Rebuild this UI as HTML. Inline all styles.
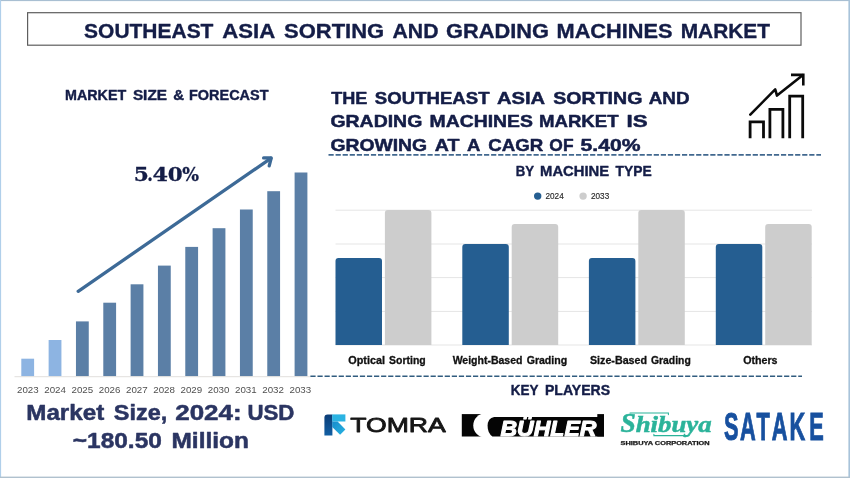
<!DOCTYPE html>
<html lang="en"><head><meta charset="utf-8"><title>Southeast Asia Sorting and Grading Machines Market</title>
<style>html,body{margin:0;padding:0;background:#fff;}body{width:850px;height:478px;overflow:hidden;}svg{display:block;}text{font-family:'Liberation Sans', sans-serif;}</style></head><body>
<svg width="850" height="478" viewBox="0 0 850 478">
<rect x="0" y="0" width="850" height="478" fill="#ffffff"/>
<rect x="0" y="0" width="850" height="1.1" fill="#a9bfd2"/>
<rect x="0" y="0" width="1.1" height="478" fill="#b0cfea"/>
<rect x="848.4" y="0" width="1.6" height="478" fill="#a8c3da"/>
<rect x="0" y="476.6" width="850" height="1.4" fill="#b0c1ce"/>
<rect x="27.6" y="12.7" width="773.4" height="32.5" fill="#fff" stroke="#5e5e5e" stroke-width="1.2"/>
<text y="37.6" font-size="20.4" font-weight="bold" fill="#141d47" stroke="#141d47" stroke-width="0.35" stroke-linejoin="round"><tspan x="84.12" textLength="129.32" lengthAdjust="spacingAndGlyphs">SOUTHEAST</tspan> <tspan x="222.23" textLength="52.10" lengthAdjust="spacingAndGlyphs">ASIA</tspan> <tspan x="284.06" textLength="100.16" lengthAdjust="spacingAndGlyphs">SORTING</tspan> <tspan x="392.52" textLength="45.96" lengthAdjust="spacingAndGlyphs">AND</tspan> <tspan x="446.12" textLength="102.90" lengthAdjust="spacingAndGlyphs">GRADING</tspan> <tspan x="556.50" textLength="116.13" lengthAdjust="spacingAndGlyphs">MACHINES</tspan> <tspan x="680.72" textLength="89.23" lengthAdjust="spacingAndGlyphs">MARKET</tspan></text>
<text y="99.5" font-size="14" font-weight="bold" fill="#141d47" stroke="#141d47" stroke-width="0.4" stroke-linejoin="round"><tspan x="64.99" textLength="61.19" lengthAdjust="spacingAndGlyphs">MARKET</tspan> <tspan x="132.90" textLength="34.10" lengthAdjust="spacingAndGlyphs">SIZE</tspan> <tspan x="173.28" textLength="10.85" lengthAdjust="spacingAndGlyphs">&amp;</tspan> <tspan x="189.00" textLength="79.46" lengthAdjust="spacingAndGlyphs">FORECAST</tspan></text>
<text y="180.8" font-size="18.6" font-weight="bold" fill="#141d47" stroke="#141d47" stroke-width="0.3" style="font-family:'DejaVu Serif', serif"><tspan x="133.87" textLength="15.13" lengthAdjust="spacingAndGlyphs">5</tspan><tspan x="147.14" textLength="5.61" lengthAdjust="spacingAndGlyphs">.</tspan><tspan x="152.64" textLength="15.53" lengthAdjust="spacingAndGlyphs">4</tspan><tspan x="167.74" textLength="14.91" lengthAdjust="spacingAndGlyphs">0</tspan><tspan x="182.33" textLength="16.75" lengthAdjust="spacingAndGlyphs">%</tspan></text>
<rect x="21.30" y="358.7" width="12.8" height="17.6" fill="#8db4e2"/>
<rect x="48.63" y="340.0" width="12.8" height="36.3" fill="#8db4e2"/>
<rect x="75.96" y="321.4" width="12.8" height="54.9" fill="#5b7fa6"/>
<rect x="103.29" y="302.7" width="12.8" height="73.6" fill="#5b7fa6"/>
<rect x="130.62" y="284.3" width="12.8" height="92.0" fill="#5b7fa6"/>
<rect x="157.95" y="265.6" width="12.8" height="110.7" fill="#5b7fa6"/>
<rect x="185.28" y="246.9" width="12.8" height="129.4" fill="#5b7fa6"/>
<rect x="212.61" y="228.2" width="12.8" height="148.1" fill="#5b7fa6"/>
<rect x="239.94" y="209.5" width="12.8" height="166.8" fill="#5b7fa6"/>
<rect x="267.27" y="191.2" width="12.8" height="185.1" fill="#5b7fa6"/>
<rect x="294.60" y="172.5" width="12.8" height="203.8" fill="#5b7fa6"/>
<rect x="14.5" y="376.2" width="296" height="1" fill="#e2dfdc"/>
<text x="17.00" y="393.3" font-size="8.5" font-weight="normal" fill="#505050" textLength="21.7" lengthAdjust="spacingAndGlyphs">2023</text>
<text x="44.25" y="393.3" font-size="8.5" font-weight="normal" fill="#505050" textLength="21.7" lengthAdjust="spacingAndGlyphs">2024</text>
<text x="71.50" y="393.3" font-size="8.5" font-weight="normal" fill="#505050" textLength="21.7" lengthAdjust="spacingAndGlyphs">2025</text>
<text x="98.75" y="393.3" font-size="8.5" font-weight="normal" fill="#505050" textLength="21.7" lengthAdjust="spacingAndGlyphs">2026</text>
<text x="126.00" y="393.3" font-size="8.5" font-weight="normal" fill="#505050" textLength="21.7" lengthAdjust="spacingAndGlyphs">2027</text>
<text x="153.25" y="393.3" font-size="8.5" font-weight="normal" fill="#505050" textLength="21.7" lengthAdjust="spacingAndGlyphs">2028</text>
<text x="180.50" y="393.3" font-size="8.5" font-weight="normal" fill="#505050" textLength="21.7" lengthAdjust="spacingAndGlyphs">2029</text>
<text x="207.75" y="393.3" font-size="8.5" font-weight="normal" fill="#505050" textLength="21.7" lengthAdjust="spacingAndGlyphs">2030</text>
<text x="235.00" y="393.3" font-size="8.5" font-weight="normal" fill="#505050" textLength="21.7" lengthAdjust="spacingAndGlyphs">2031</text>
<text x="262.25" y="393.3" font-size="8.5" font-weight="normal" fill="#505050" textLength="21.7" lengthAdjust="spacingAndGlyphs">2032</text>
<text x="289.50" y="393.3" font-size="8.5" font-weight="normal" fill="#505050" textLength="21.7" lengthAdjust="spacingAndGlyphs">2033</text>
<g fill="none" stroke="#3d6a97" stroke-width="3.3" stroke-linecap="round" stroke-linejoin="round"><path d="M78.2 291.3 L270.8 158.3"/><path d="M263.6 157.9 L271.2 158 L269.2 165.8"/></g>
<text y="420.3" font-size="21.5" font-weight="bold" fill="#2b3562" stroke="#2b3562" stroke-width="0.5" stroke-linejoin="round"><tspan x="26.29" textLength="77.94" lengthAdjust="spacingAndGlyphs">Market</tspan> <tspan x="113.85" textLength="53.39" lengthAdjust="spacingAndGlyphs">Size,</tspan> <tspan x="175.23" textLength="66.42" lengthAdjust="spacingAndGlyphs">2024:</tspan> <tspan x="247.45" textLength="47.01" lengthAdjust="spacingAndGlyphs">USD</tspan></text>
<text y="447.6" font-size="21.5" font-weight="bold" fill="#2b3562" stroke="#2b3562" stroke-width="0.5" stroke-linejoin="round"><tspan x="72.85" textLength="88.99" lengthAdjust="spacingAndGlyphs">~180.50</tspan> <tspan x="171.49" textLength="77.40" lengthAdjust="spacingAndGlyphs">Million</tspan></text>
<text y="103.6" font-size="17" font-weight="bold" fill="#141d47" stroke="#141d47" stroke-width="0.5" stroke-linejoin="round"><tspan x="331.18" textLength="36.13" lengthAdjust="spacingAndGlyphs">THE</tspan> <tspan x="374.84" textLength="114.71" lengthAdjust="spacingAndGlyphs">SOUTHEAST</tspan> <tspan x="496.96" textLength="47.41" lengthAdjust="spacingAndGlyphs">ASIA</tspan> <tspan x="553.32" textLength="89.07" lengthAdjust="spacingAndGlyphs">SORTING</tspan> <tspan x="648.72" textLength="40.79" lengthAdjust="spacingAndGlyphs">AND</tspan></text>
<text y="127.1" font-size="17" font-weight="bold" fill="#141d47" stroke="#141d47" stroke-width="0.5" stroke-linejoin="round"><tspan x="330.42" textLength="91.87" lengthAdjust="spacingAndGlyphs">GRADING</tspan> <tspan x="429.49" textLength="103.46" lengthAdjust="spacingAndGlyphs">MACHINES</tspan> <tspan x="539.03" textLength="79.53" lengthAdjust="spacingAndGlyphs">MARKET</tspan> <tspan x="626.44" textLength="21.08" lengthAdjust="spacingAndGlyphs">IS</tspan></text>
<text y="150.5" font-size="17" font-weight="bold" fill="#141d47" stroke="#141d47" stroke-width="0.5" stroke-linejoin="round"><tspan x="330.42" textLength="96.69" lengthAdjust="spacingAndGlyphs">GROWING</tspan> <tspan x="434.74" textLength="24.68" lengthAdjust="spacingAndGlyphs">AT</tspan> <tspan x="467.00" textLength="12.68" lengthAdjust="spacingAndGlyphs">A</tspan> <tspan x="488.37" textLength="54.96" lengthAdjust="spacingAndGlyphs">CAGR</tspan> <tspan x="549.37" textLength="24.14" lengthAdjust="spacingAndGlyphs">OF</tspan> <tspan x="580.55" textLength="59.85" lengthAdjust="spacingAndGlyphs">5.40%</tspan></text>
<path d="M328.5 154.8 H821" stroke="#41688f" stroke-width="1.7" stroke-dasharray="5.2 1.87" fill="none"/>
<text y="176.0" font-size="14" font-weight="bold" fill="#141d47" stroke="#141d47" stroke-width="0.4" stroke-linejoin="round"><tspan x="515.85" textLength="18.08" lengthAdjust="spacingAndGlyphs">BY</tspan> <tspan x="540.13" textLength="69.01" lengthAdjust="spacingAndGlyphs">MACHINE</tspan> <tspan x="615.54" textLength="36.07" lengthAdjust="spacingAndGlyphs">TYPE</tspan></text>
<circle cx="537.7" cy="196.1" r="3.7" fill="#255e91"/>
<circle cx="583.1" cy="196.1" r="3.7" fill="#cdcdcd"/>
<text x="545.5" y="198.9" font-size="8.2" font-weight="normal" fill="#2a2a2a" textLength="18.2" lengthAdjust="spacingAndGlyphs" stroke="#2a2a2a" stroke-width="0.15" stroke-linejoin="round">2024</text>
<text x="591" y="198.9" font-size="8.2" font-weight="normal" fill="#2a2a2a" textLength="18.2" lengthAdjust="spacingAndGlyphs" stroke="#2a2a2a" stroke-width="0.15" stroke-linejoin="round">2033</text>
<rect x="335.5" y="209.7" width="476.5" height="1" fill="#e5e5e5"/>
<rect x="335.5" y="243.5" width="476.5" height="1" fill="#e5e5e5"/>
<rect x="335.5" y="277.1" width="476.5" height="1" fill="#e5e5e5"/>
<rect x="335.5" y="310.9" width="476.5" height="1" fill="#e5e5e5"/>
<rect x="335.5" y="344.5" width="476.5" height="1" fill="#e5e5e5"/>
<path d="M335.5 345 V260.9 Q335.5 257.9 338.5 257.9 H379.0 Q382.0 257.9 382.0 260.9 V345 Z" fill="#255e91"/>
<path d="M384.9 345 V213.1 Q384.9 210.1 387.9 210.1 H428.4 Q431.4 210.1 431.4 213.1 V345 Z" fill="#cdcdcd"/>
<path d="M462.3 345 V247 Q462.3 244 465.3 244 H505.8 Q508.8 244 508.8 247 V345 Z" fill="#255e91"/>
<path d="M511.7 345 V227 Q511.7 224 514.7 224 H555.2 Q558.2 224 558.2 227 V345 Z" fill="#cdcdcd"/>
<path d="M588.9 345 V260.9 Q588.9 257.9 591.9 257.9 H632.4 Q635.4 257.9 635.4 260.9 V345 Z" fill="#255e91"/>
<path d="M638.3 345 V213.1 Q638.3 210.1 641.3 210.1 H681.8 Q684.8 210.1 684.8 213.1 V345 Z" fill="#cdcdcd"/>
<path d="M715.8 345 V247 Q715.8 244 718.8 244 H759.3 Q762.3 244 762.3 247 V345 Z" fill="#255e91"/>
<path d="M765.1999999999999 345 V227 Q765.1999999999999 224 768.1999999999999 224 H808.6999999999999 Q811.6999999999999 224 811.6999999999999 227 V345 Z" fill="#cdcdcd"/>
<text y="363.6" font-size="10.4" font-weight="bold" fill="#111" stroke="#111" stroke-width="0.3" stroke-linejoin="round"><tspan x="348.27" textLength="36.78" lengthAdjust="spacingAndGlyphs">Optical</tspan> <tspan x="389.14" textLength="36.56" lengthAdjust="spacingAndGlyphs">Sorting</tspan></text>
<text y="363.6" font-size="10.4" font-weight="bold" fill="#111" stroke="#111" stroke-width="0.3" stroke-linejoin="round"><tspan x="452.65" textLength="69.83" lengthAdjust="spacingAndGlyphs">Weight-Based</tspan> <tspan x="526.66" textLength="40.53" lengthAdjust="spacingAndGlyphs">Grading</tspan></text>
<text y="363.6" font-size="10.4" font-weight="bold" fill="#111" stroke="#111" stroke-width="0.3" stroke-linejoin="round"><tspan x="589.98" textLength="57.07" lengthAdjust="spacingAndGlyphs">Size-Based</tspan> <tspan x="651.00" textLength="39.72" lengthAdjust="spacingAndGlyphs">Grading</tspan></text>
<text y="363.6" font-size="10.4" font-weight="bold" fill="#111" stroke="#111" stroke-width="0.3" stroke-linejoin="round"><tspan x="743.27" textLength="34.27" lengthAdjust="spacingAndGlyphs">Others</tspan></text>
<path d="M310.4 376.3 H802" stroke="#315c7f" stroke-width="1.6" stroke-dasharray="5.2 1.87" fill="none"/>
<text y="395.3" font-size="13.8" font-weight="bold" fill="#141d47" stroke="#141d47" stroke-width="0.4" stroke-linejoin="round"><tspan x="510.86" textLength="27.40" lengthAdjust="spacingAndGlyphs">KEY</tspan> <tspan x="545.01" textLength="65.06" lengthAdjust="spacingAndGlyphs">PLAYERS</tspan></text>
<g fill="none" stroke="#0a0a0a" stroke-width="2.8" stroke-linejoin="miter"><path d="M750.1 138.2 V121.9 H763.5 V138.2"/><path d="M769.9 138.2 V109.3 H782.9 V138.2"/><path d="M789.7 138.2 V96.1 H802.7 V138.2"/><path d="M750.3 114.6 L775.2 89.4 L777.0 95.6 L802.6 75.2" stroke-width="2.6" stroke-linecap="round" stroke-linejoin="round"/><path d="M792.3 74.9 H803.3 V84.3" stroke-width="2.6" stroke-linecap="square"/></g>
<defs><linearGradient id="tg1" x1="0" y1="0" x2="0" y2="1"><stop offset="0" stop-color="#0b3c76"/><stop offset="1" stop-color="#125fa3"/></linearGradient><linearGradient id="tg2" x1="0" y1="0" x2="1" y2="1"><stop offset="0" stop-color="#178bcc"/><stop offset="1" stop-color="#29b4e2"/></linearGradient></defs>
<g><path d="M324.4 417.6 Q324.4 414.4 327.6 414.4 H332.4 V435.4 H324.4 Z" fill="url(#tg1)"/><path d="M332.2 414.4 H345.4 V421.5 H332.2 Z" fill="#2bb3e2"/><path d="M332.2 421.4 H337.6 L345.4 429.4 L340.1 434.7 L332.2 426.9 Z" fill="url(#tg2)"/></g>
<text x="350.2" y="432.2" font-size="21" font-weight="normal" fill="#161616" textLength="95.6" lengthAdjust="spacingAndGlyphs" stroke="#161616" stroke-width="0.8" stroke-linejoin="round">TOMRA</text>
<g><rect x="461.8" y="414.1" width="24" height="22.4" fill="#050505"/><circle cx="485.3" cy="425.4" r="12.05" fill="#fff"/><path d="M604 417 H494.2 Q487.6 418.2 487.6 426 Q487.6 433 492.4 436.5 H604 Z" fill="#050505"/><rect x="597.3" y="414.1" width="6.7" height="22.4" fill="#050505"/></g>
<text x="500.4" y="436.1" font-size="21.4" font-weight="bold" fill="#fff" textLength="96" lengthAdjust="spacingAndGlyphs" stroke="#fff" stroke-width="1.0" stroke-linejoin="round" font-style="italic">BÜHLER</text>
<g fill="none" stroke="#2bb39a" stroke-width="1.1" stroke-linecap="round"><path d="M630 413 H668.4 V414.6"/><path d="M653.9 434.2 V435.6 H689"/></g>
<text x="620.4" y="431.8" fill="#2bb39a" stroke="#2bb39a" stroke-width="0.5" font-weight="bold" font-style="italic" style="font-family:'Liberation Serif', serif"><tspan font-size="27.5">S</tspan><tspan font-size="23" textLength="76" lengthAdjust="spacingAndGlyphs">hibuya</tspan></text>
<text x="620.6" y="444.6" font-size="5" font-weight="bold" fill="#1c1c1c" textLength="89" lengthAdjust="spacingAndGlyphs" stroke="#1c1c1c" stroke-width="0.25" stroke-linejoin="round">SHIBUYA CORPORATION</text>
<g transform="translate(723.9 440.1) scale(0.55 1)"><text x="0.00 29.27 59.09 87.09 119.45 155.27" y="0" font-size="39.6" font-weight="bold" fill="#17509f" stroke="#17509f" stroke-width="0.8" style="vector-effect:non-scaling-stroke" vector-effect="non-scaling-stroke">SATAKE</text></g>
</svg></body></html>
